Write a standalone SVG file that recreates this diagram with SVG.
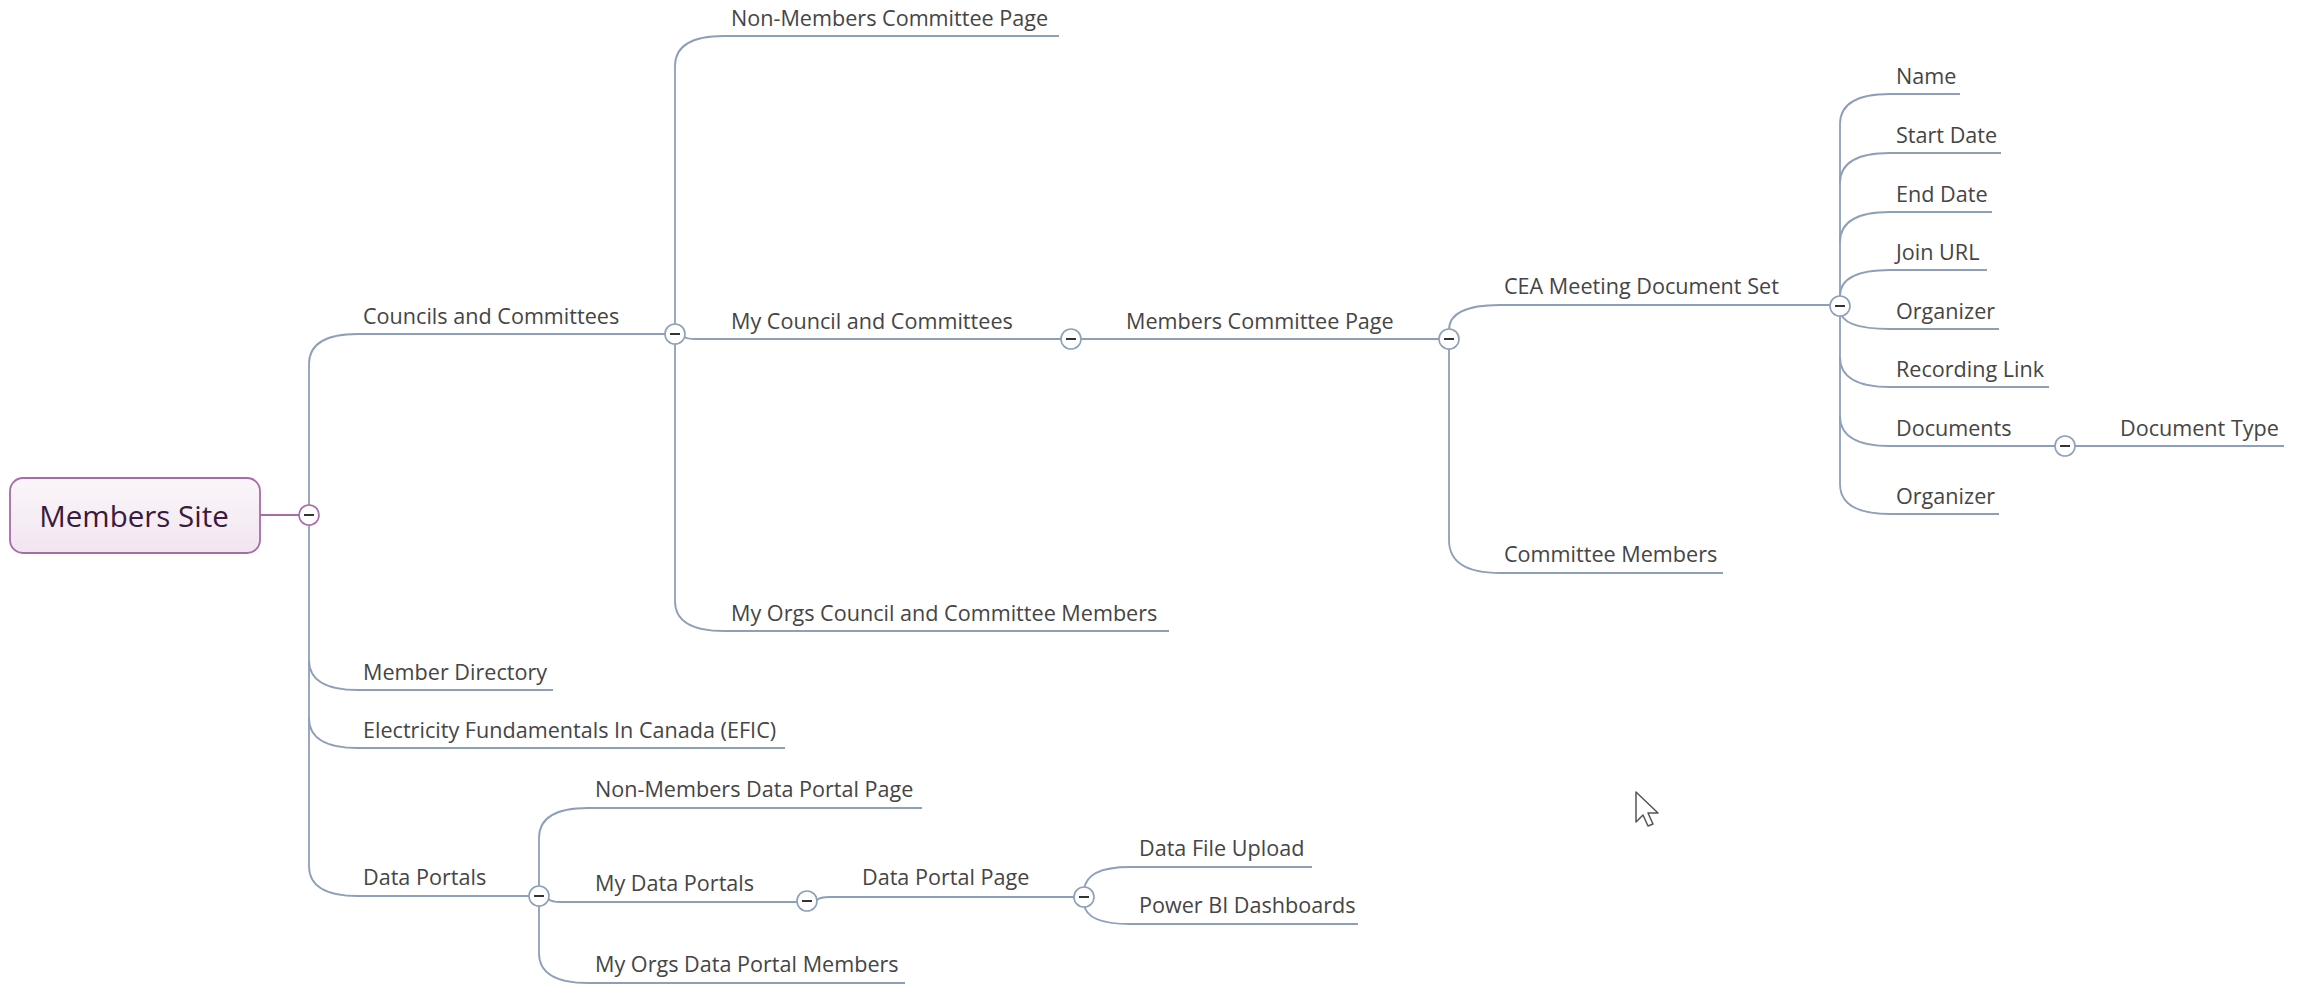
<svg xmlns="http://www.w3.org/2000/svg" width="2305" height="987" viewBox="0 0 2305 987">
<defs>
<linearGradient id="rootFill" x1="0" y1="0" x2="0" y2="1">
<stop offset="0" stop-color="#fbf6fa"/>
<stop offset="1" stop-color="#f1e5f0"/>
</linearGradient>
</defs>
<style>
.ln{fill:none;stroke:#8e9fb8;stroke-width:1.8}
.rl{fill:none;stroke:#a86aa8;stroke-width:1.8}
.t{font-family:"Open Sans","Liberation Sans",sans-serif;font-size:21.6px;fill:#454545}
.tog{fill:#ffffff;stroke:#8e9fb8;stroke-width:1.6}
.rtog{fill:#ffffff;stroke:#a86aa8;stroke-width:1.6}
.mn{stroke:#333333;stroke-width:2}
</style>
<rect width="2305" height="987" fill="#ffffff"/>
<g id="connectors">
<line class="rl" x1="260" y1="515" x2="299" y2="515"/>
<path class="ln" d="M309,364 V866"/>
<path class="ln" d="M309,364 Q309,334 358,334 H665"/>
<path class="ln" d="M309,660 Q309,690 358,690 H553"/>
<path class="ln" d="M309,718 Q309,748 358,748 H785"/>
<path class="ln" d="M309,866 Q309,896 358,896 H529"/>
<path class="ln" d="M675,66 V601"/>
<path class="ln" d="M675,66 Q675,36 724,36 H1059"/>
<path class="ln" d="M684,337 Q688,339 695,339 H1061"/>
<path class="ln" d="M675,601 Q675,631 724,631 H1169"/>
<path class="ln" d="M1081,339 H1439"/>
<path class="ln" d="M1449,330 V540"/>
<path class="ln" d="M1449,330 Q1449,305 1500,305 H1830"/>
<path class="ln" d="M1449,540 Q1449,573 1500,573 H1723"/>
<path class="ln" d="M1840,124 V484"/>
<path class="ln" d="M1840,124 Q1840,94 1890,94 H1960"/>
<path class="ln" d="M1840,183 Q1840,153 1890,153 H2001"/>
<path class="ln" d="M1840,242 Q1840,212 1890,212 H1992"/>
<path class="ln" d="M1840,296 Q1840,270 1890,270 H1987"/>
<path class="ln" d="M1840,309 Q1840,329 1890,329 H1999"/>
<path class="ln" d="M1840,357 Q1840,387 1890,387 H2049"/>
<path class="ln" d="M1840,416 Q1840,446 1890,446 H2055"/>
<path class="ln" d="M2075,446 H2284"/>
<path class="ln" d="M1840,484 Q1840,514 1890,514 H1999"/>
<path class="ln" d="M539,838 V953"/>
<path class="ln" d="M539,838 Q539,808 588,808 H922"/>
<path class="ln" d="M548,899 Q552,902 560,902 H797"/>
<path class="ln" d="M539,953 Q539,983 588,983 H905"/>
<path class="ln" d="M817,900 Q820,897 830,897 H1074"/>
<path class="ln" d="M1084,890 Q1086,867 1130,867 H1312"/>
<path class="ln" d="M1084,904 Q1086,924 1130,924 H1358"/>
</g>
<g id="root">
<rect x="10" y="478" width="250" height="75" rx="13" fill="url(#rootFill)" stroke="#a86aa8" stroke-width="1.8"/>
<text x="134" y="527" text-anchor="middle" font-family="Open Sans, Liberation Sans, sans-serif" font-size="29.5" fill="#3b1a3b">Members Site</text>
<circle class="rtog" cx="309" cy="515" r="10"/><line class="mn" x1="304" y1="515" x2="314" y2="515"/>
</g>
<g id="councils">
<text class="t" x="363" y="324">Councils and Committees</text>
<circle class="tog" cx="675" cy="334" r="10"/><line class="mn" x1="670" y1="334" x2="680" y2="334"/>
</g>
<g id="member-directory"><text class="t" x="363" y="680">Member Directory</text></g>
<g id="efic"><text class="t" x="363" y="738">Electricity Fundamentals In Canada (EFIC)</text></g>
<g id="data-portals">
<text class="t" x="363" y="885">Data Portals</text>
<circle class="tog" cx="539" cy="896" r="10"/><line class="mn" x1="534" y1="896" x2="544" y2="896"/>
</g>
<g id="non-members-committee"><text class="t" x="731" y="26">Non-Members Committee Page</text></g>
<g id="my-council">
<text class="t" x="731" y="329">My Council and Committees</text>
<circle class="tog" cx="1071" cy="339" r="10"/><line class="mn" x1="1066" y1="339" x2="1076" y2="339"/>
</g>
<g id="my-orgs-council"><text class="t" x="731" y="621">My Orgs Council and Committee Members</text></g>
<g id="members-committee-page">
<text class="t" x="1126" y="329">Members Committee Page</text>
<circle class="tog" cx="1449" cy="339" r="10"/><line class="mn" x1="1444" y1="339" x2="1454" y2="339"/>
</g>
<g id="cea">
<text class="t" x="1504" y="294">CEA Meeting Document Set</text>
<circle class="tog" cx="1840" cy="306" r="10"/><line class="mn" x1="1835" y1="306" x2="1845" y2="306"/>
</g>
<g id="committee-members"><text class="t" x="1504" y="562">Committee Members</text></g>
<g id="name"><text class="t" x="1896" y="84">Name</text></g>
<g id="start-date"><text class="t" x="1896" y="143">Start Date</text></g>
<g id="end-date"><text class="t" x="1896" y="202">End Date</text></g>
<g id="join-url"><text class="t" x="1896" y="260">Join URL</text></g>
<g id="organizer1"><text class="t" x="1896" y="319">Organizer</text></g>
<g id="recording-link"><text class="t" x="1896" y="377">Recording Link</text></g>
<g id="documents">
<text class="t" x="1896" y="436">Documents</text>
<circle class="tog" cx="2065" cy="446" r="10"/><line class="mn" x1="2060" y1="446" x2="2070" y2="446"/>
</g>
<g id="document-type"><text class="t" x="2120" y="436">Document Type</text></g>
<g id="organizer2"><text class="t" x="1896" y="504">Organizer</text></g>
<g id="non-members-data-portal"><text class="t" x="595" y="797">Non-Members Data Portal Page</text></g>
<g id="my-data-portals">
<text class="t" x="595" y="891">My Data Portals</text>
<circle class="tog" cx="807" cy="901" r="10"/><line class="mn" x1="802" y1="901" x2="812" y2="901"/>
</g>
<g id="data-portal-page">
<text class="t" x="862" y="885">Data Portal Page</text>
<circle class="tog" cx="1084" cy="897" r="10"/><line class="mn" x1="1079" y1="897" x2="1089" y2="897"/>
</g>
<g id="data-file-upload"><text class="t" x="1139" y="856">Data File Upload</text></g>
<g id="power-bi"><text class="t" x="1139" y="913">Power BI Dashboards</text></g>
<g id="my-orgs-data-portal"><text class="t" x="595" y="972">My Orgs Data Portal Members</text></g>
<path d="M1636,792 L1636,822 L1643,815 L1648,826 L1653,824 L1648,813 L1658,813 Z" fill="#ffffff" stroke="#555555" stroke-width="1.5" stroke-linejoin="round"/>
</svg>
